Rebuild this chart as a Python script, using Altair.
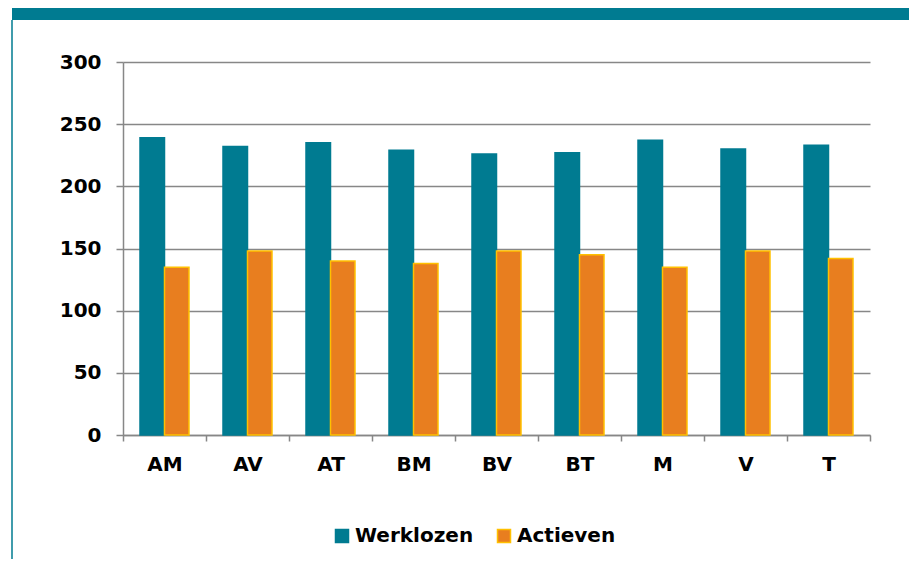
import altair as alt
import pandas as pd

categories = ["AM", "AV", "AT", "BM", "BV", "BT", "M", "V", "T"]
werklozen = [239, 232, 235, 229, 226, 227, 237, 230, 233]
actieven = [135, 148, 140, 138, 148, 145, 135, 148, 142]
series = ["Werklozen", "Actieven"]

TEAL = "#007B91"
ORANGE = "#E87E1F"
YELLOW = "#FFC000"
GRID = "#878787"
FONT = "DejaVu Sans"

rows = []
for c, w, a in zip(categories, werklozen, actieven):
    rows.append({"cat": c, "serie": "Werklozen", "val": w})
    rows.append({"cat": c, "serie": "Actieven", "val": a})
df = pd.DataFrame(rows)

bars = alt.Chart(df).mark_bar(strokeWidth=1.5).encode(
    x=alt.X("cat:N", sort=categories, title=None,
            scale=alt.Scale(paddingInner=0, paddingOuter=0),
            axis=alt.Axis(labelAngle=0, tickBand="extent", tickSize=6,
                          labelPadding=13, labelFontSize=20, labelFont=FONT,
                          labelFontWeight="bold", labelColor="black",
                          domainColor=GRID, domainWidth=1.5,
                          tickColor=GRID, tickWidth=1.5, grid=False)),
    xOffset=alt.XOffset("serie:N", sort=series,
                        scale=alt.Scale(paddingInner=0, paddingOuter=0.694)),
    y=alt.Y("val:Q", title=None,
            scale=alt.Scale(domain=[0, 300], nice=False),
            axis=alt.Axis(values=[0, 50, 100, 150, 200, 250, 300], tickSize=7,
                          labelPadding=15, labelFontSize=20, labelFont=FONT,
                          labelFontWeight="bold", labelColor="black",
                          domainColor=GRID, domainWidth=1.5,
                          tickColor=GRID, tickWidth=1.5,
                          grid=True, gridColor=GRID, gridWidth=1.5)),
    color=alt.Color("serie:N", sort=series, title=None,
                    scale=alt.Scale(domain=series, range=[TEAL, ORANGE]),
                    legend=alt.Legend(orient="none", direction="horizontal",
                                      legendX=209, legendY=464,
                                      symbolType="square", symbolSize=169,
                                      symbolStrokeWidth=1.5, labelOffset=3,
                                      columnPadding=20, labelFontSize=20,
                                      labelFont=FONT, labelFontWeight="bold",
                                      labelColor="black", labelLimit=300)),
    stroke=alt.Stroke("serie:N", sort=series, title=None,
                      scale=alt.Scale(domain=series, range=[TEAL, YELLOW])),
)

frame = pd.DataFrame([{"k": 1}])
header = alt.Chart(frame).mark_rect(color=TEAL, clip=False).encode(
    x=alt.value(-111), x2=alt.value(786), y=alt.value(-54), y2=alt.value(-42)
)
border = alt.Chart(frame).mark_rule(color=TEAL, strokeWidth=1.5, clip=False).encode(
    x=alt.value(-111), y=alt.value(-42), y2=alt.value(497)
)

chart = alt.layer(bars, header, border).properties(
    width=747, height=373,
    autosize=alt.AutoSizeParams(type="none"),
    padding={"left": 115, "top": 54, "right": 39, "bottom": 124},
    background="white",
).configure_view(stroke=None)

chart.save("out.html", embed_options={"renderer": "svg", "actions": False})
